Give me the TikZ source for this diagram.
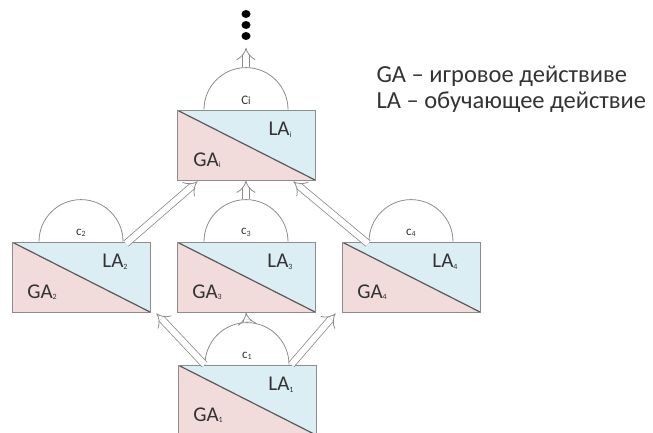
\documentclass[tikz,border=0pt]{standalone}
\usepackage{fontspec}
\setmainfont{Carlito}
\usetikzlibrary{arrows.meta,calc,shapes.geometric}
\definecolor{lablue}{RGB}{219,238,244}
\definecolor{gapink}{RGB}{242,220,219}
\definecolor{edgegray}{RGB}{140,140,140}
\def\lowidx#1{\raisebox{-1.5pt}{\fontsize{8}{8}\selectfont #1}}

\tikzset{
	actbox/.style={draw=edgegray, line width=0.8pt, minimum width=138pt, minimum height=70pt, inner sep=0pt,
		path picture={
			\fill[lablue] (path picture bounding box.north west) rectangle (path picture bounding box.south east);
			\fill[gapink] (path picture bounding box.north west) -- (path picture bounding box.south east) -- (path picture bounding box.south west) -- cycle;
			\draw[black!65, line width=1.2pt] (path picture bounding box.north west) -- (path picture bounding box.south east);
		}},
	dome/.style={draw=edgegray, line width=0.8pt},
	hollow/.style={draw=edgegray, line width=0.8pt, double=white, double distance=6pt, -{Implies}},
	dot/.style={ellipse, fill=black, inner sep=0pt, minimum width=9pt, minimum height=8pt},
	boxtext/.style={font=\fontsize{21}{21}\selectfont, text=black!80},
	ctext/.style={font=\fontsize{13}{13}\selectfont, text=black!80},
}

\begin{document}
\begin{tikzpicture}[x=1pt, y=-1pt]
			%%%%% START %%%%%
			\useasboundingbox (0,0) rectangle (653,432);
			
			% boxes
			\node[actbox] (bi) at (246,145) {};
			\node[actbox] (b2) at (81,277) {};
			\node[actbox] (b3) at (246,277) {};
			\node[actbox] (b4) at (411,277) {};
			\node[actbox] (b1) at (247,400) {};
			
			% domes, labels
			\foreach \b/\k/\c in {bi/i/C{\fontsize{11}{11}\selectfont i}, b1/1/c\lowidx{1}, b2/2/c\lowidx{2}, b3/3/c\lowidx{3}, b4/4/c\lowidx{4}}{
				\draw[dome] ($(\b.north)+(-42,0)$) arc (180:0:42pt);
				\node[ctext] (c\k) at ($(\b.north)+(0,-9)$) {\c};
				\node[boxtext] (la\k) at ($(\b.center)+(34,-15)$) {LA\lowidx{\k}};
				\node[boxtext] (ga\k) at ($(\b.center)+(-39,15)$) {GA\lowidx{\k}};
			}
			
			% arrows
			\coordinate (ti) at ($(bi.north)+(0,-43)$);
			\coordinate (t3) at ($(b3.north)+(0,-43)$);
			\coordinate (t1) at ($(b1.north)+(0,-43)$);
			\draw[hollow] (t1) -- (b3.south);
			\draw[hollow] (t3) -- (bi.south);
			\draw[hollow] (ti) -- ++(0,-19);
			\draw[hollow] ($(b2.north)+(45,2)$) -- ($(bi.south west)+(21,1)$);
			\draw[hollow] ($(b4.north)+(-43,2)$) -- ($(bi.south east)+(-22,1)$);
			\draw[hollow] ($(b1.north west)+(27,0)$) -- ($(b2.south east)+(6,1)$);
			\draw[hollow] ($(b1.north east)+(-25,0)$) -- ($(b4.south west)+(-6,1)$);
			
			\node[dot] (d1) at (246,36) {};
			\node[dot] (d2) at (246,25) {};
			\node[dot] (d3) at (246,14) {};
			
			% legend
			\node[anchor=base west, font=\fontsize{24.5}{24.5}\selectfont, text=black!80] (leg1) at (373,82) {GA – игровое действиве};
			\node[anchor=base west, font=\fontsize{24.5}{24.5}\selectfont, text=black!80] (leg2) at (373,108) {LA – обучающее действие};
			%%%%% END %%%%%
\end{tikzpicture}
\end{document}
